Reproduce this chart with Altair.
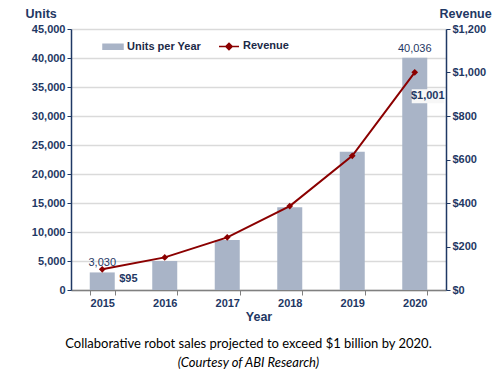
import altair as alt
import pandas as pd

years = ["2015", "2016", "2017", "2018", "2019", "2020"]
units = [3030, 5000, 8600, 14250, 23850, 40036]
revenue = [95, 150, 242, 386, 617, 1001]
unit_labels = ["3,030", "", "", "", "", "40,036"]
rev_labels = ["$95", "", "", "", "", "$1,001"]

df = pd.DataFrame({
    "Year": years, "Units": units, "Revenue": revenue,
    "ulab": unit_labels, "rlab": rev_labels,
    "s1": "Units per Year", "s2": "Revenue",
})

NAVY = "#1f3864"
BAR = "#a9b4c7"
RED = "#8b0000"
FONT = "Liberation Sans"

color_scale = alt.Scale(domain=["Units per Year", "Revenue"], range=[BAR, RED])

legend = alt.Legend(
    title=None, orient="none", legendX=31, legendY=6, direction="horizontal",
    labelFont=FONT, labelFontSize=11, labelFontWeight="bold", labelColor="#1b2a47",
    symbolSize=400, labelOffset=3, columnPadding=15, symbolOpacity=1, symbolStrokeWidth=1.5,
    symbolType=alt.ExprRef("datum.value === 'Revenue' ? 'M-1,0H1M0,-0.32L0.32,0L0,0.32L-0.32,0Z' : 'M-1,-0.25H1V0.25H-1Z'"),
    symbolFillColor=alt.ExprRef("datum.value === 'Revenue' ? '#8b0000' : '#a9b4c7'"),
    symbolStrokeColor=alt.ExprRef("datum.value === 'Revenue' ? '#3a6db5' : 'transparent'"),
)

x_enc = alt.X("Year:N", scale=alt.Scale(paddingInner=0.6, paddingOuter=0.3),
              axis=alt.Axis(title="Year", labelAngle=0, tickBand="extent",
                            domainColor="#808080", tickColor="#808080", domainWidth=1.5,
                            tickSize=5, labelFont=FONT, labelFontSize=11, labelFontWeight="bold",
                            labelColor=NAVY, labelPadding=2, titleFont=FONT, titleFontSize=12.5,
                            titleColor=NAVY, titlePadding=2, grid=False))

left_axis = alt.Axis(title="Units", format=",.0f", values=list(range(0, 45001, 5000)),
                     grid=True, gridColor="#dadada", gridWidth=1.5,
                     domainColor=NAVY, domainWidth=1.5, tickColor=NAVY, tickSize=4,
                     labelFont=FONT, labelFontSize=11, labelFontWeight="bold", labelColor=NAVY,
                     titleFont=FONT, titleFontSize=12.5, titleColor=NAVY, titleAngle=0,
                     titleAlign="left", titleBaseline="middle", titleX=-46, titleY=-16)
right_axis = alt.Axis(title="Revenue", orient="right", format="$,.0f",
                      values=list(range(0, 1201, 200)), grid=False,
                      domainColor=NAVY, domainWidth=1.5, tickColor=NAVY, tickSize=4,
                      labelFont=FONT, labelFontSize=11, labelFontWeight="bold", labelColor=NAVY,
                      titleFont=FONT, titleFontSize=12.5, titleColor=NAVY, titleAngle=0,
                      titleAlign="left", titleBaseline="middle", titleX=-7, titleY=-16)

y_left = alt.Y("Units:Q", scale=alt.Scale(domain=[0, 45000]), axis=left_axis)
y_right = alt.Y("Revenue:Q", scale=alt.Scale(domain=[0, 1200]), axis=right_axis)

base = alt.Chart(df)

bars = base.mark_bar(color=BAR).encode(
    x=x_enc, y=y_left,
    color=alt.Color("s1:N", scale=color_scale, legend=legend))
ulabels = base.mark_text(font=FONT, fontSize=11, color=NAVY, baseline="bottom", dy=-4).encode(
    x=x_enc, y=y_left, text="ulab:N")
left = alt.layer(bars, ulabels)

line = base.mark_line(strokeWidth=2, point=alt.OverlayMarkDef(shape="diamond", size=45, filled=True)).encode(
    x=x_enc, y=y_right,
    color=alt.Color("s2:N", scale=color_scale, legend=legend))
box = base.transform_filter("datum.rlab == '$1,001'").mark_point(
    shape="M-1.6,-0.7H1.6V0.7H-1.6Z", size=400, filled=True, color="#f7f7f7", opacity=1,
    xOffset=13, yOffset=24).encode(x=x_enc, y=y_right)
rlab95 = base.transform_filter("datum.rlab == '$95'").mark_text(
    font=FONT, fontSize=11, fontWeight="bold", color=NAVY, align="left", dx=17, dy=10).encode(
    x=x_enc, y=y_right, text="rlab:N")
rlab1001 = base.transform_filter("datum.rlab == '$1,001'").mark_text(
    font=FONT, fontSize=11, fontWeight="bold", color=NAVY, align="center", dx=13, dy=24).encode(
    x=x_enc, y=y_right, text="rlab:N")
right = alt.layer(line, box, rlab95, rlab1001)

chart = alt.layer(left, right).resolve_scale(y="independent").properties(
    width=375, height=261,
    padding={"left": 63, "top": 21, "right": 46, "bottom": 85},
    autosize=alt.AutoSizeParams(type="none"),
    title=alt.Title(
        text="Collaborative robot sales projected to exceed $1 billion by 2020.",
        subtitle="(Courtesy of ABI Research)",
        orient="bottom", anchor="middle", font="Lato", fontSize=13, fontWeight="normal",
        color="black", subtitleFont="Lato", subtitleFontSize=13, subtitleFontStyle="italic",
        subtitleColor="black", offset=15, dx=-10, subtitlePadding=6),
).configure_view(stroke=None).configure(background="white")

chart.save("out.html", embed_options={"renderer": "svg", "actions": False})
